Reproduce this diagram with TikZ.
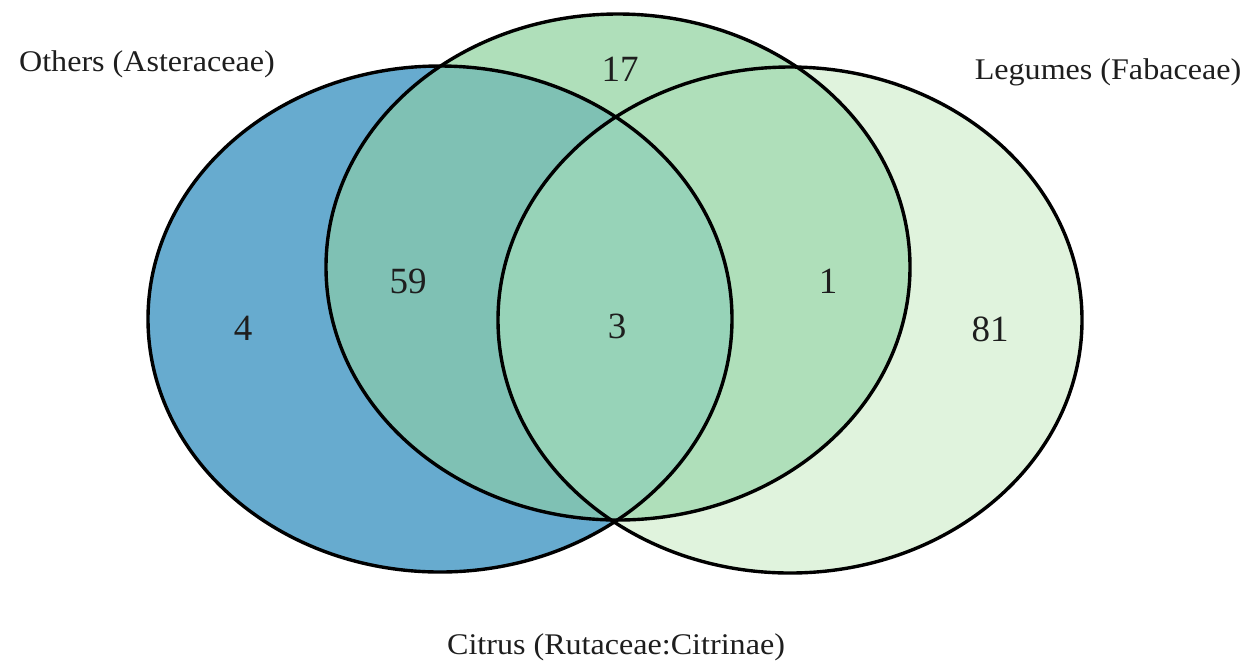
\documentclass[tikz,border=0pt]{standalone}
\usepackage{fontspec}
\setmainfont{Liberation Serif}[FakeStretch=1.07]
\newfontfamily\numfont{Liberation Serif}
\definecolor{blueonly}{RGB}{103,171,207}
\definecolor{bluemid}{RGB}{127,193,180}
\definecolor{allthree}{RGB}{151,211,184}
\definecolor{midcol}{RGB}{175,223,186}
\definecolor{rightonly}{RGB}{224,243,221}
\definecolor{txt}{RGB}{30,30,30}
\begin{document}
\begin{tikzpicture}[x=0.5pt,y=-0.5pt,
  setlabel/.style={font=\fontsize{15pt}{17pt}\selectfont, text=txt, anchor=base, inner sep=0pt},
  count/.style={font=\numfont\fontsize{18.5pt}{20pt}\selectfont, text=txt, anchor=base, inner sep=0pt},
  outline/.style={draw=black, line width=1.7pt}]
\useasboundingbox (0,0) rectangle (1252,666);
\fill[white] (0,0) rectangle (1252,666);
\def\Eblue{(440,319) ellipse [x radius=146pt, y radius=126.5pt]}
\def\Emid{(618,267) ellipse [x radius=146pt, y radius=126.5pt]}
\def\Eright{(790,320) ellipse [x radius=146pt, y radius=126.5pt]}
% fills
\fill[rightonly] \Eright;
\fill[midcol] \Emid;
\fill[blueonly] \Eblue;
\begin{scope}
  \clip \Eblue;
  \fill[bluemid] \Emid;
  \fill[allthree] \Eright;
\end{scope}
% outlines
\draw[outline] \Eblue;
\draw[outline] \Emid;
\draw[outline] \Eright;
% labels
\node[setlabel] (others) at (147,71) {Others (Asteraceae)};
\node[setlabel] (legumes) at (1108,79) {Legumes (Fabaceae)};
\node[setlabel] (citrus) at (616,654) {Citrus (Rutaceae:Citrinae)};
% counts
\node[count] (n17) at (620,81) {17};
\node[count] (n59) at (408,293) {59};
\node[count] (n4) at (243,340) {4};
\node[count] (n3) at (617,338) {3};
\node[count] (n1) at (828,293) {1};
\node[count] (n81) at (990,341) {81};
\end{tikzpicture}
\end{document}
